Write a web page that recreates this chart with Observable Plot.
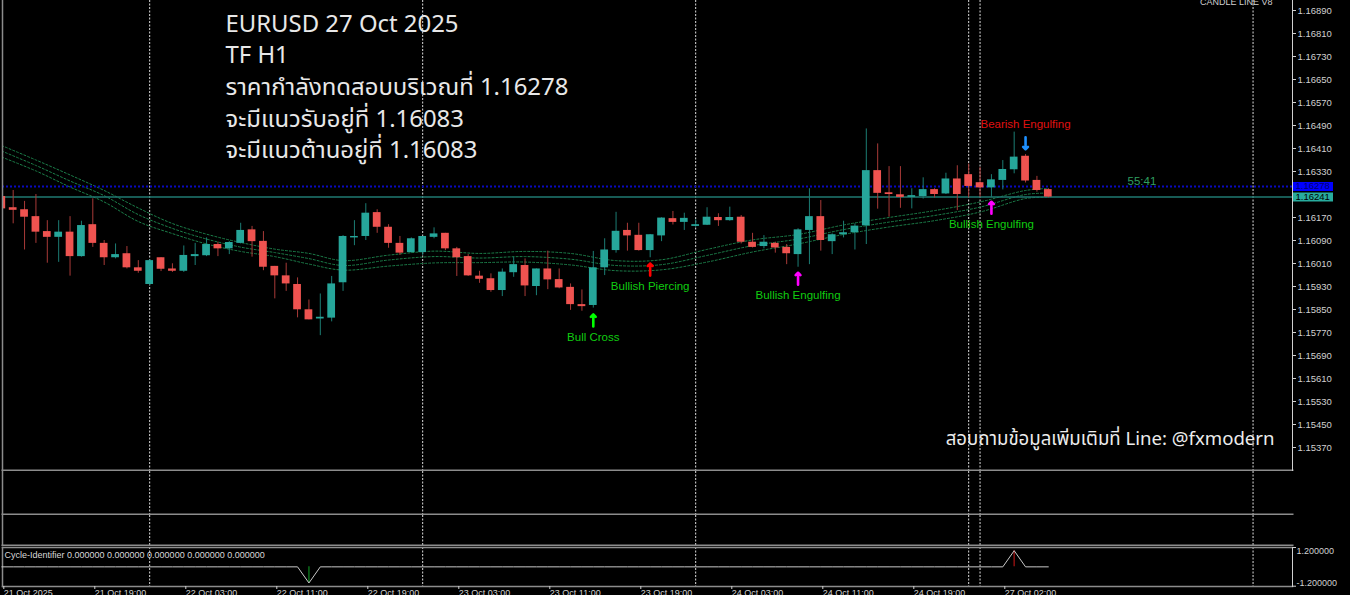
<!DOCTYPE html>
<html><head><meta charset="utf-8">
<script src="https://cdn.jsdelivr.net/npm/d3@7"></script>
<script src="https://cdn.jsdelivr.net/npm/@observablehq/plot@0.6"></script>
<style>
html,body{margin:0;padding:0;background:#000;}
#chart{position:relative;width:1350px;height:595px;background:#000;overflow:hidden;}
#chart svg{position:absolute;left:0;display:block;}
</style></head><body><div id="chart"></div>
<script>
// ---------- data (EURUSD H1, 21–27 Oct 2025) ----------
const opens  = [1.16243,1.16204,1.16197,1.16173,1.16121,1.16101,1.16119,1.16034,1.16145,1.16080,1.16030,1.16044,1.15995,1.15937,1.16030,1.15991,1.15983,1.16034,1.16037,1.16076,1.16061,1.16080,1.16127,1.16087,1.16000,1.15967,1.15937,1.15849,1.15817,1.15820,1.15943,1.16099,1.16104,1.16187,1.16136,1.16080,1.16048,1.16048,1.16101,1.16115,1.16061,1.16034,1.15966,1.15957,1.15916,1.15978,1.16003,1.15930,1.15991,1.15954,1.15927,1.15867,1.15864,1.15995,1.16055,1.16125,1.16108,1.16055,1.16106,1.16166,1.16153,1.16139,1.16143,1.16170,1.16159,1.16171,1.16084,1.16069,1.16080,1.16066,1.16041,1.16125,1.16173,1.16086,1.16110,1.16117,1.16141,1.16333,1.16256,1.16249,1.16240,1.16243,1.16267,1.16252,1.16304,1.16319,1.16291,1.16273,1.16299,1.16336,1.16383,1.16299,1.16267];
const highs  = [1.16246,1.16264,1.16226,1.16250,1.16159,1.16159,1.16173,1.16157,1.16235,1.16090,1.16078,1.16069,1.16020,1.16023,1.16030,1.16009,1.16071,1.16080,1.16099,1.16084,1.16086,1.16150,1.16139,1.16121,1.16000,1.16011,1.15960,1.15883,1.15904,1.15965,1.16107,1.16159,1.16218,1.16197,1.16145,1.16104,1.16099,1.16104,1.16134,1.16115,1.16066,1.16041,1.15983,1.15974,1.15991,1.16032,1.16026,1.15991,1.16053,1.15991,1.15939,1.15918,1.16052,1.16096,1.16188,1.16150,1.16150,1.16111,1.16169,1.16191,1.16185,1.16162,1.16204,1.16183,1.16206,1.16177,1.16115,1.16107,1.16084,1.16076,1.16131,1.16270,1.16229,1.16113,1.16157,1.16148,1.16478,1.16426,1.16347,1.16347,1.16270,1.16308,1.16270,1.16324,1.16350,1.16356,1.16344,1.16319,1.16368,1.16467,1.16389,1.16313,1.16270];
const lows   = [1.16197,1.16148,1.16057,1.16080,1.16011,1.16014,1.15966,1.16032,1.16066,1.16003,1.16026,1.15991,1.15976,1.15933,1.15982,1.15979,1.15979,1.16003,1.16034,1.16034,1.16041,1.16078,1.16032,1.15985,1.15887,1.15913,1.15821,1.15814,1.15759,1.15807,1.15913,1.16072,1.16090,1.16115,1.16063,1.16038,1.16046,1.16038,1.16096,1.16055,1.15965,1.15965,1.15941,1.15910,1.15895,1.15962,1.15895,1.15898,1.15919,1.15922,1.15847,1.15844,1.15855,1.15968,1.16046,1.16053,1.16053,1.16030,1.16086,1.16144,1.16125,1.16136,1.16142,1.16139,1.16157,1.16078,1.16064,1.16061,1.16046,1.16006,1.15997,1.16006,1.16053,1.16041,1.16099,1.16057,1.16076,1.16199,1.16171,1.16202,1.16200,1.16234,1.16238,1.16250,1.16194,1.16238,1.16240,1.16240,1.16266,1.16322,1.16290,1.16258,1.16238];
const closes = [1.16200,1.16195,1.16171,1.16119,1.16101,1.16119,1.16034,1.16142,1.16080,1.16030,1.16041,1.15995,1.15983,1.16020,1.15990,1.15983,1.16038,1.16041,1.16076,1.16061,1.16083,1.16125,1.16086,1.15997,1.15967,1.15939,1.15849,1.15814,1.15823,1.15939,1.16104,1.16104,1.16185,1.16136,1.16080,1.16046,1.16096,1.16104,1.16113,1.16061,1.16030,1.15967,1.15955,1.15916,1.15980,1.16006,1.15932,1.15991,1.15953,1.15925,1.15867,1.15860,1.15995,1.16057,1.16122,1.16106,1.16055,1.16110,1.16168,1.16153,1.16167,1.16145,1.16171,1.16159,1.16170,1.16084,1.16066,1.16084,1.16064,1.16044,1.16127,1.16173,1.16090,1.16110,1.16117,1.16140,1.16333,1.16254,1.16250,1.16240,1.16246,1.16267,1.16250,1.16304,1.16250,1.16278,1.16273,1.16301,1.16337,1.16380,1.16297,1.16264,1.16241];

// moving-average envelope (three dotted lines), read at these bars
const maBars   = [0,3,6,9,12,15,18,21,24,27,30,34,38,42,46,50,54,58,62,66,70,74,78,82,86,90,92];
const maUpper  = [1.16420,1.16370,1.16318,1.16264,1.16203,1.16149,1.16112,1.16083,1.16060,1.16045,1.16020,1.16039,1.16053,1.16045,1.16052,1.16045,1.16020,1.16023,1.16059,1.16092,1.16111,1.16144,1.16170,1.16194,1.16224,1.16264,1.16271];
const maMiddle = [1.16401,1.16351,1.16297,1.16246,1.16180,1.16132,1.16095,1.16067,1.16048,1.16027,1.16003,1.16022,1.16034,1.16029,1.16034,1.16025,1.16003,1.16006,1.16038,1.16072,1.16095,1.16128,1.16154,1.16177,1.16206,1.16250,1.16255];
const maLower  = [1.16380,1.16332,1.16276,1.16224,1.16156,1.16114,1.16078,1.16052,1.16034,1.16008,1.15987,1.16001,1.16012,1.16013,1.16015,1.16005,1.15985,1.15988,1.16015,1.16050,1.16078,1.16111,1.16137,1.16159,1.16189,1.16236,1.16241];

// price levels
const askPrice = 1.16278;
const lastPrice = 1.16241;
const priceTicks = [1.16890,1.16810,1.16730,1.16650,1.16570,1.16490,1.16410,1.16330,1.16170,1.16090,1.16010,1.15930,1.15850,1.15770,1.15690,1.15610,1.15530,1.15450,1.15370];

// signals
const signalLabels = ["Bull Cross","Bullish Piercing","Bullish Engulfing","Bullish Engulfing","Bearish Engulfing"];
const signalKinds  = ["cross","piercing","engulfUp","engulfUp","engulfDown"];
const signalBars   = [52,57,70,87,90];
const signalPrices = [1.15791,1.15968,1.15936,1.16183,1.16449];

// separators (bar index)
const separatorBars = [13,37,61,85,86,110];

// time axis
const timeTickBars = [0,8,16,24,32,40,48,56,64,72,80,88];
const timeLabels = ["21 Oct 2025","21 Oct 19:00","22 Oct 03:00","22 Oct 11:00","22 Oct 19:00","23 Oct 03:00","23 Oct 11:00","23 Oct 19:00","24 Oct 03:00","24 Oct 11:00","24 Oct 19:00","27 Oct 02:00"];

// cycle identifier
const cycleValues = [0,0,0,0,0,0,0,0,0,0,0,0,0,0,0,0,0,0,0,0,0,0,0,0,0,0,0,-1,0,0,0,0,0,0,0,0,0,0,0,0,0,0,0,0,0,0,0,0,0,0,0,0,0,0,0,0,0,0,0,0,0,0,0,0,0,0,0,0,0,0,0,0,0,0,0,0,0,0,0,0,0,0,0,0,0,0,0,0,0,1,0,0,0];
const cycleTicks = [1.2, -1.2];

// texts
const infoLines = ["EURUSD 27 Oct 2025","TF H1","ราคากำลังทดสอบบริเวณที่ 1.16278","จะมีแนวรับอยู่ที่ 1.16083","จะมีแนวต้านอยู่ที่ 1.16083"];
const contactText = "สอบถามข้อมูลเพิ่มเติมที่ Line: @fxmodern";
const timerText = "55:41";
const indicatorName = "CANDLE LINE V8";
const cycleHeader = "Cycle-Identifier 0.000000 0.000000 0.000000 0.000000 0.000000";

// ---------- build ----------
const candles = opens.map((o, i) => ({i, open: o, high: highs[i], low: lows[i], close: closes[i]}));
const bulls = candles.filter(d => d.close >= d.open);
const bears = candles.filter(d => d.close < d.open);
const ma = maBars.map((b, k) => ({i: b, u: maUpper[k], m: maMiddle[k], l: maLower[k]}));
const signals = signalLabels.map((s, k) => ({label: s, kind: signalKinds[k], i: signalBars[k], p: signalPrices[k]}));
const ups = signals.filter(d => d.kind !== "engulfDown");
const downs = signals.filter(d => d.kind === "engulfDown");
const arrowColor = {cross: "#00ff00", piercing: "#ff0000", engulfUp: "#ff00ff", engulfDown: "#1e90ff"};
const cycle = cycleValues.map((v, i) => ({i, v}));
const cycleBars = cycle.filter(d => d.v !== 0);
const timeMap = new Map(timeTickBars.map((b, k) => [b, timeLabels[k]]));

const xScale = {type: "linear", domain: [0, 110], range: [1.3, 1252.55]};
const baseStyle = {background: "#000", color: "#d0d0d0", fontFamily: "'Liberation Sans', Arial, sans-serif", fontSize: "9.5px"};
const sepMark = () => Plot.ruleX(separatorBars, {stroke: "#dcdcdc", strokeDasharray: "2,1.5", strokeWidth: 1});
const BULL = "#26a69a", BEAR = "#ef5350", BULLW = "#1c7d74", BEARW = "#a83a38";
const MA = "#1c7f4a";
const UI = "'Noto Sans', 'Noto Sans Thai', 'Open Sans', sans-serif";

const main = Plot.plot({
  width: 1350, height: 471,
  marginLeft: 2, marginRight: 58, marginTop: 0, marginBottom: 1,
  style: baseStyle,
  x: {...xScale, axis: null},
  y: {domain: [1.15370, 1.16890], range: [447, 10], axis: null},
  marks: [
    sepMark(),
    Plot.line(ma, {x: "i", y: "u", curve: "catmull-rom", stroke: MA, strokeWidth: 1, strokeDasharray: "2,2", clip: "frame"}),
    Plot.line(ma, {x: "i", y: "m", curve: "catmull-rom", stroke: MA, strokeWidth: 1, strokeDasharray: "2,2", clip: "frame"}),
    Plot.line(ma, {x: "i", y: "l", curve: "catmull-rom", stroke: MA, strokeWidth: 1, strokeDasharray: "2,2", clip: "frame"}),
    Plot.ruleY([askPrice], {stroke: "#0a0ac0", strokeWidth: 2, strokeDasharray: "2,2"}),
    Plot.ruleY([lastPrice], {stroke: "#1f7a72", strokeWidth: 1.5}),
    Plot.ruleX(bulls, {x: "i", y1: "low", y2: "high", stroke: BULLW, strokeWidth: 1, clip: "frame"}),
    Plot.ruleX(bears, {x: "i", y1: "low", y2: "high", stroke: BEARW, strokeWidth: 1, clip: "frame"}),
    Plot.rect(bulls, {x1: d => d.i - 0.34, x2: d => d.i + 0.34, y1: "open", y2: "close", fill: BULL, clip: "frame"}),
    Plot.rect(bears, {x1: d => d.i - 0.34, x2: d => d.i + 0.34, y1: "open", y2: "close", fill: BEAR, clip: "frame"}),
    Plot.vector(ups, {x: "i", y: "p", length: 12, rotate: 0, anchor: "start", stroke: d => arrowColor[d.kind], strokeWidth: 2.6}),
    Plot.vector(downs, {x: "i", y: "p", length: 12, rotate: 180, anchor: "start", stroke: d => arrowColor[d.kind], strokeWidth: 2.6}),
    Plot.text(ups, {x: "i", y: "p", text: "label", dy: 11, fill: "#10cc10", fontSize: 11.5, fontFamily: "'Liberation Sans', Arial, sans-serif"}),
    Plot.text(downs, {x: "i", y: "p", text: "label", dy: -12.5, fill: "#e01010", fontSize: 11.5, fontFamily: "'Liberation Sans', Arial, sans-serif"}),
    Plot.frame({anchor: "left", stroke: "#8c8c8c", strokeWidth: 1.5}),
    Plot.frame({anchor: "bottom", stroke: "#8c8c8c", strokeWidth: 2}),
    Plot.frame({anchor: "right", stroke: "#d0d0d0", strokeWidth: 1}),
    Plot.axisY(priceTicks, {anchor: "right", label: null, tickSize: 3, tickPadding: 2, tickFormat: d => d.toFixed(5), fontSize: 9.5, color: "#d0d0d0"}),
    // axis price boxes
    Plot.ruleY([askPrice], {stroke: "#0000ff", strokeWidth: 9, insetLeft: 1291, insetRight: -41}),
    Plot.ruleY([lastPrice], {stroke: "#28ac9e", strokeWidth: 9, insetLeft: 1291, insetRight: -41}),
    Plot.text([askPrice], {y: d => d, text: d => d.toFixed(5), frameAnchor: "right", dx: 3, textAnchor: "start", fill: "#000070", fontSize: 9.5}),
    Plot.text([lastPrice], {y: d => d, text: d => d.toFixed(5), frameAnchor: "right", dx: 3, textAnchor: "start", fill: "#000", fontSize: 9.5}),
    // timer
    Plot.text([askPrice], {y: d => d, text: () => timerText, frameAnchor: "right", dx: -165, dy: -1.5, textAnchor: "start", lineAnchor: "bottom", fill: "#2f9f60", fontSize: 11.5}),
    // indicator name (cut at top)
    Plot.text([indicatorName], {frameAnchor: "top-right", dx: -20, dy: 4, textAnchor: "end", lineAnchor: "bottom", fill: "#d0d0d0", fontSize: 9}),
    // info block
    Plot.text([infoLines.join("\n")], {frameAnchor: "top-left", dx: 223, dy: 9, textAnchor: "start", lineAnchor: "top", lineHeight: 1.32, fontSize: 23.9, fill: "#e8e8e8", fontFamily: UI}),
    Plot.text([contactText], {frameAnchor: "bottom-right", dx: -18, dy: -31, textAnchor: "end", lineAnchor: "middle", fontSize: 18.6, fill: "#ececec", fontFamily: UI})
  ]
});

function emptyPanel(h) {
  return Plot.plot({
    width: 1350, height: h, marginLeft: 2, marginRight: 58, marginTop: 0, marginBottom: 1,
    style: baseStyle,
    x: {...xScale, axis: null}, y: {domain: [0, 1], axis: null},
    marks: [
      sepMark(),
      Plot.frame({anchor: "left", stroke: "#8c8c8c", strokeWidth: 1.5}),
      Plot.frame({anchor: "bottom", stroke: "#8c8c8c", strokeWidth: 2})
    ]
  });
}
const p2 = emptyPanel(44);
const p3 = emptyPanel(31);

const p4 = Plot.plot({
  width: 1350, height: 49, marginLeft: 2, marginRight: 58, marginTop: 1, marginBottom: 9,
  style: baseStyle,
  x: {...xScale, axis: null},
  y: {domain: [-1.2, 1.2], range: [39.7, 1], axis: null},
  marks: [
    sepMark(),
    Plot.frame({anchor: "left", stroke: "#8c8c8c", strokeWidth: 1.5}),
    Plot.frame({anchor: "top", stroke: "#8c8c8c", strokeWidth: 1.5}),
    Plot.frame({anchor: "bottom", stroke: "#8c8c8c", strokeWidth: 1.5}),
    Plot.frame({anchor: "right", stroke: "#d0d0d0", strokeWidth: 1}),
    Plot.ruleX(cycleBars, {x: "i", y1: 0, y2: "v", stroke: d => d.v < 0 ? "#0b6e1a" : "#8b1010", strokeWidth: 1.5}),
    Plot.line(cycle, {x: "i", y: "v", stroke: "#c8c8c8", strokeWidth: 1}),
    Plot.axisY([cycleTicks[0]], {anchor: "right", label: null, tickSize: 3, tickPadding: 1, lineAnchor: "top", tickFormat: d => d.toFixed(6), fontSize: 9, color: "#d0d0d0"}),
    Plot.axisY([cycleTicks[1]], {anchor: "right", label: null, tickSize: 3, tickPadding: 1, lineAnchor: "bottom", tickFormat: d => d.toFixed(6), fontSize: 9, color: "#d0d0d0"}),
    Plot.axisX(timeTickBars, {anchor: "bottom", label: null, tickSize: 3, tickPadding: 0, textAnchor: "start", dx: 2, tickFormat: d => timeMap.get(d), fontSize: 9, color: "#d0d0d0"}),
    Plot.text([cycleHeader], {frameAnchor: "top-left", dx: 2, dy: 4, textAnchor: "start", lineAnchor: "top", fontSize: 9, fill: "#d8d8d8"})
  ]
});

const chart = document.getElementById("chart");
[[main, 0], [p2, 471], [p3, 515], [p4, 546]].forEach(([svg, top]) => {
  svg.style.top = top + "px";
  chart.appendChild(svg);
});
</script>
</body></html>
